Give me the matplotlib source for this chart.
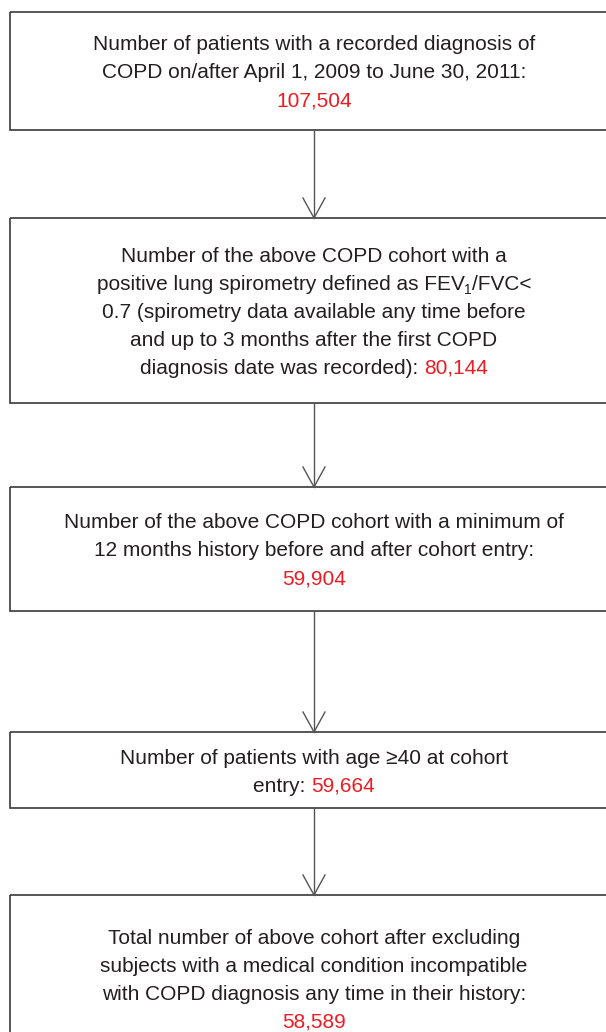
import matplotlib.pyplot as plt
from matplotlib.patches import Rectangle

# flowchart content
box_lines = [
    ["Number of patients with a recorded diagnosis of",
     "COPD on/after April 1, 2009 to June 30, 2011:",
     "{n}"],
    ["Number of the above COPD cohort with a",
     "positive lung spirometry defined as FEV_1/FVC<",
     "0.7 (spirometry data available any time before",
     "and up to 3 months after the first COPD",
     "diagnosis date was recorded): {n}"],
    ["Number of the above COPD cohort with a minimum of",
     "12 months history before and after cohort entry:",
     "{n}"],
    ["Number of patients with age \u226540 at cohort",
     "entry: {n}"],
    ["Total number of above cohort after excluding",
     "subjects with a medical condition incompatible",
     "with COPD diagnosis any time in their history:",
     "{n}"],
]
counts = ["107,504", "80,144", "59,904", "59,664", "58,589"]

# layout in pixels (top, bottom) of each box
box_y = [(12, 130), (218, 403), (487, 611), (732, 808), (895, 1060)]
box_x = (10, 618)
cx = 314

black = "#231f20"
red = "#ed1c24"
edge = "#3a3a3a"
fs = 15
line_h = 28

plt.rcParams['font.family'] = ['Liberation Sans', 'DejaVu Sans']

fig = plt.figure(figsize=(6.06, 10.32), dpi=100)
ax = fig.add_axes([0, 0, 1, 1])
ax.set_xlim(0, 606)
ax.set_ylim(1032, 0)
ax.axis("off")
r = fig.canvas.get_renderer()


def width(s, size=fs):
    t = ax.text(0, 0, s + "x", fontsize=size)
    t2 = ax.text(0, 0, "x", fontsize=size)
    w = t.get_window_extent(r).width - t2.get_window_extent(r).width
    t.remove()
    t2.remove()
    return w


def draw_line(line, y, n):
    # split into segments: (text, color, sub)
    segs = []
    if "{n}" in line:
        pre = line.split("{n}")[0]
        if pre:
            segs.append((pre, black, False))
        segs.append((n, red, False))
    elif "_1" in line:
        a, b = line.split("_1")
        segs = [(a, black, False), ("1", black, True), (b, black, False)]
    else:
        segs = [(line, black, False)]
    ws = [width(s, fs * 0.65 if sub else fs) for s, c, sub in segs]
    x = cx - sum(ws) / 2
    for (s, c, sub), w in zip(segs, ws):
        if sub:
            ax.text(x, y + 12, s, fontsize=fs * 0.65, color=c, ha="left", va="baseline")
        else:
            ax.text(x, y + 7.5, s, fontsize=fs, color=c, ha="left", va="baseline")
        x += w


for i, (lines, (top, bot)) in enumerate(zip(box_lines, box_y)):
    ax.add_patch(Rectangle((box_x[0], top), box_x[1] - box_x[0], bot - top,
                           fill=False, edgecolor=edge, lw=1.2))
    mid = (top + bot) / 2 if i < 4 else 978
    y0 = mid - (len(lines) - 1) * line_h / 2
    for j, ln in enumerate(lines):
        draw_line(ln, y0 + j * line_h, counts[i])

# arrows between boxes
for (t1, b1), (t2, b2) in zip(box_y[:-1], box_y[1:]):
    ax.plot([cx, cx], [b1, t2], color="#555555", lw=1.0)
    ax.plot([cx - 11, cx, cx + 11], [t2 - 20, t2, t2 - 20], color="#555555", lw=1.0)

fig.savefig("out.png", dpi=100)
